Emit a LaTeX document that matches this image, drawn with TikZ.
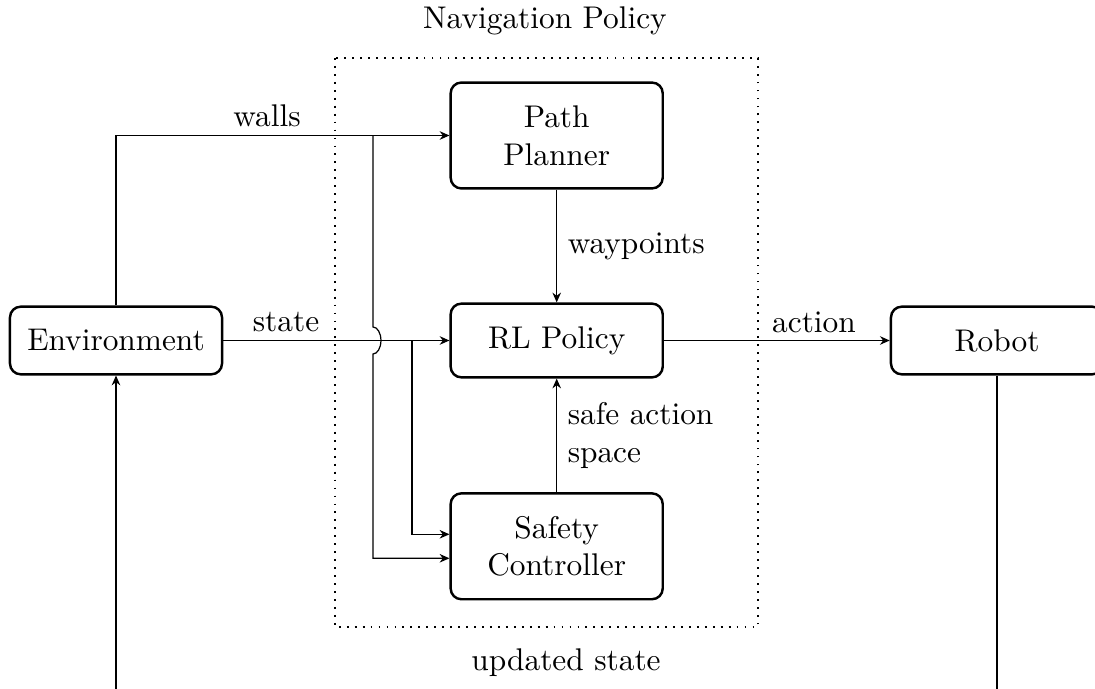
\documentclass[tikz,border=0pt]{standalone}
\usetikzlibrary{arrows.meta}
\begin{document}
\fontsize{10.25pt}{12.4pt}\selectfont
\begin{tikzpicture}[x=0.3268pt,y=-0.3268pt,
  font=\fontsize{10.25pt}{12.4pt}\selectfont,
  block/.style={draw,thick,rounded corners=3.5pt,minimum width=69.3pt,align=center,inner sep=2pt},
  flow/.style={-{Stealth[length=3.2pt,width=2.8pt]}},
  lbl/.style={inner sep=0pt}]
\useasboundingbox (0,0) rectangle (1095,689);

% components
\node[block,minimum height=22.1pt] (env) at (116,340.5) {Environment};
\node[block,minimum height=22.1pt] (robot) at (997,340.5) {Robot};
\node[block,minimum height=34.6pt] (planner) at (556.7,135.5) {Path\\Planner};
\node[block,minimum height=24.1pt] (rl) at (556.7,340.5) {RL Policy};
\node[block,minimum height=34.6pt] (safety) at (556.7,546.3) {Safety\\Controller};

% navigation policy group
\draw[dotted,semithick] (335,58) rectangle (758,627);
\node[lbl] (navlbl) at (545,21) {Navigation Policy};

% environment to planner
\draw[flow] (env.north) |- (planner.west);
\node[lbl] (walls) at (267,116) {walls};

% state to RL policy
\draw[flow] (env.east) -- (rl.west);
\node[lbl] (state) at (286,322) {state};

% branches to the safety controller
\coordinate (wj) at (373,135.5);
\coordinate (sj) at (412,340.5);
\draw[flow] (wj) -- (373,327) arc[start angle=90,end angle=-90,x radius=2.6pt,y radius=4.41pt]
  |- ([yshift=-3.92pt]safety.west);
\draw[flow] (sj) |- ([yshift=3.92pt]safety.west);

% planner and safety into RL policy
\draw[flow] (planner) -- node[right] {waypoints} (rl);
\draw[flow] (safety) -- node[right,align=left] {safe action\\space} (rl);

% action
\draw[flow] (rl.east) -- (robot.west);
\node[lbl] (action) at (814,322) {action};

% feedback loop
\coordinate (loop) at (997,720);
\draw[flow] (robot.south) -- (loop) -| (env.south);
\node[lbl] (upd) at (566,663) {updated state};
\end{tikzpicture}
\end{document}
